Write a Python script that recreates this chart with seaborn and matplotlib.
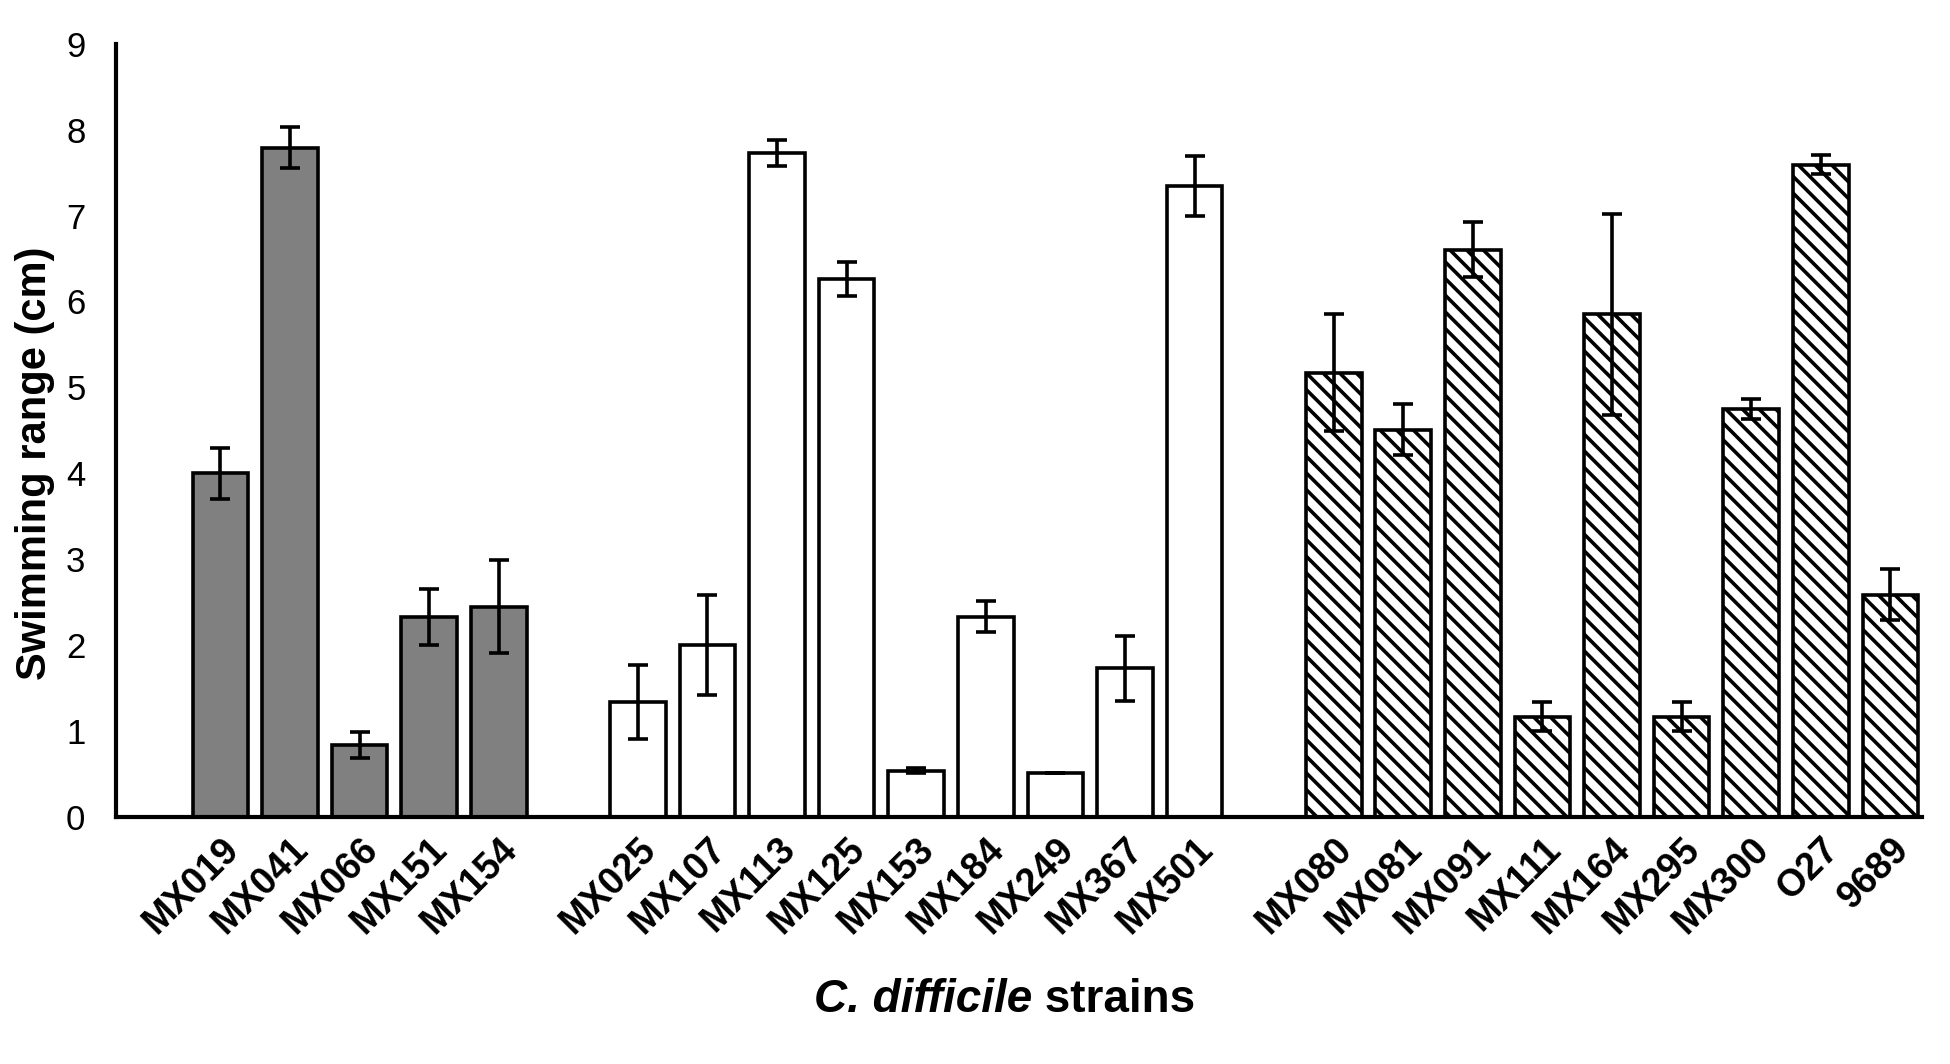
import numpy as np
import pandas as pd
import matplotlib
matplotlib.use("Agg")
import matplotlib.pyplot as plt
import seaborn as sns
from matplotlib.offsetbox import TextArea, HPacker, AnnotationBbox

sns.set_style("white")
plt.rcParams['font.family'] = ['Liberation Sans', 'DejaVu Sans']
plt.rcParams['text.color'] = 'black'
plt.rcParams['axes.labelcolor'] = 'black'
plt.rcParams['xtick.color'] = 'black'
plt.rcParams['ytick.color'] = 'black'
plt.rcParams['hatch.linewidth'] = 2.6
plt.rcParams['hatch.color'] = 'black'

# --- data ---
grp1 = ['MX019', 'MX041', 'MX066', 'MX151', 'MX154']
val1 = [4.00, 7.79, 0.84, 2.33, 2.45]
err1 = [0.30, 0.24, 0.15, 0.33, 0.54]

grp2 = ['MX025', 'MX107', 'MX113', 'MX125', 'MX153', 'MX184', 'MX249', 'MX367', 'MX501']
val2 = [1.34, 2.00, 7.73, 6.26, 0.54, 2.33, 0.51, 1.73, 7.34]
err2 = [0.43, 0.58, 0.15, 0.20, 0.03, 0.18, 0.00, 0.38, 0.35]

grp3 = ['MX080', 'MX081', 'MX091', 'MX111', 'MX164', 'MX295', 'MX300', 'O27', '9689']
val3 = [5.17, 4.51, 6.60, 1.17, 5.85, 1.17, 4.75, 7.59, 2.59]
err3 = [0.68, 0.30, 0.32, 0.17, 1.17, 0.17, 0.12, 0.11, 0.30]

yticks = [0, 1, 2, 3, 4, 5, 6, 7, 8, 9]

df = pd.DataFrame({
    'strain': grp1 + grp2 + grp3,
    'value': val1 + val2 + val3,
    'err': err1 + err2 + err3,
    'group': ['g1'] * len(grp1) + ['g2'] * len(grp2) + ['g3'] * len(grp3),
})

# empty slots between the three groups
order = grp1 + [''] + grp2 + [' '] + grp3
xpos = {s: i for i, s in enumerate(order)}

fig = plt.figure(figsize=(19.5, 10.64), dpi=100)
ax = fig.add_axes([0.0595, 0.232, 0.926, 0.727])

sns.barplot(data=df, x='strain', y='value', hue='group', order=order,
            palette={'g1': '#808080', 'g2': 'white', 'g3': 'white'},
            dodge=False, width=0.8, errorbar=None, edgecolor='black',
            linewidth=2.6, legend=False, ax=ax)

# hatch the third group
for p in ax.patches:
    idx = int(round(p.get_x() + p.get_width() / 2))
    if 0 <= idx < len(order) and order[idx] in grp3 and p.get_height() > 0:
        p.set_hatch('\\\\')

# error bars
xs = [xpos[s] for s in df['strain']]
ax.errorbar(xs, df['value'], yerr=df['err'], fmt='none', ecolor='black',
            elinewidth=2.6, capsize=7, capthick=2.6, zorder=5)

ax.set_ylim(0, 9)
ax.set_xlim(-1.5, len(order) - 0.55)
ax.set_yticks(yticks)
ax.set_yticklabels([str(t) for t in yticks], fontsize=25)
ax.set_xticks(range(len(order)))
ax.set_xticklabels(order, rotation=45, ha='right', rotation_mode='anchor',
                   fontsize=27, fontweight='bold')
ax.tick_params(axis='both', length=0)
ax.tick_params(axis='y', pad=22)
ax.tick_params(axis='x', pad=10)

for side in ['top', 'right']:
    ax.spines[side].set_visible(False)
for side in ['left', 'bottom']:
    ax.spines[side].set_linewidth(3)
    ax.spines[side].set_color('black')

ax.set_xlabel('')
ax.set_ylabel('Swimming range (cm)', fontsize=30, fontweight='bold')
ax.yaxis.set_label_coords(-0.034, 0.458)

# x label with italic species name
t1 = TextArea('C. difficile', textprops=dict(fontsize=33, fontweight='bold', style='italic', color='black'))
t2 = TextArea(' strains', textprops=dict(fontsize=33, fontweight='bold', color='black'))
box = HPacker(children=[t1, t2], align='baseline', pad=0, sep=0)
ab = AnnotationBbox(box, (0.515, 0.06), xycoords='figure fraction',
                    frameon=False, box_alignment=(0.5, 0.5))
fig.add_artist(ab)

fig.savefig('out.png', dpi=100)
